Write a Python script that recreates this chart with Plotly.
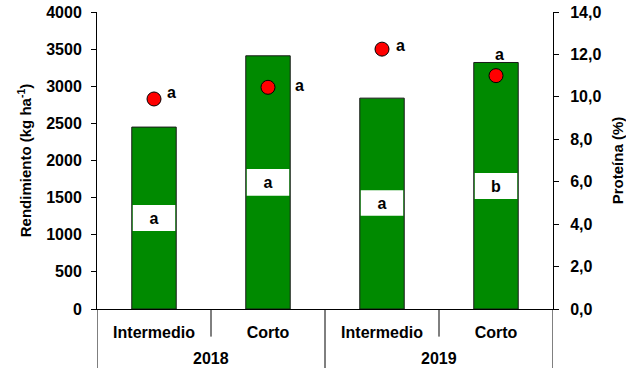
import plotly.graph_objects as go

years = ["2018", "2019"]
cycles = ["Intermedio", "Corto", "Intermedio", "Corto"]
yield_kg = [2450, 3410, 2840, 3320]
box_low = [1050, 1525, 1255, 1480]
box_high = [1400, 1885, 1600, 1830]
yield_letters = ["a", "a", "a", "b"]
protein = [9.9, 10.45, 12.25, 11.0]
protein_letters = ["a", "a", "a", "a"]

FONT = "Liberation Sans, Arial, sans-serif"
TICK = dict(family=FONT, size=16, color="black", weight="bold")
xs = list(range(len(cycles)))
n_per_year = len(cycles) // len(years)

fig = go.Figure()
fig.add_trace(go.Bar(
    x=xs, y=yield_kg, width=0.39,
    marker=dict(color="#008A00", line=dict(color="#1a1a1a", width=1)),
    showlegend=False, hoverinfo="skip",
))
fig.add_trace(go.Bar(
    x=xs, y=[h - l for h, l in zip(box_high, box_low)], base=box_low, width=0.372,
    marker=dict(color="white", line=dict(width=0)),
    text=["<b>%s</b>" % t for t in yield_letters], textposition="inside",
    insidetextanchor="middle", textangle=0,
    textfont=dict(family=FONT, size=16, color="black", weight="bold"),
    showlegend=False, hoverinfo="skip",
))
fig.add_trace(go.Scatter(
    x=xs, y=protein, yaxis="y2", mode="markers",
    marker=dict(color="#FF0000", size=14, line=dict(color="black", width=1)),
    showlegend=False, hoverinfo="skip", cliponaxis=False,
))

# letters next to the protein points (pixel offsets of the label from its point)
label_shift = [(17, 6), (31, 2), (18, 4), (3, 21)]
for i, (p, t) in enumerate(zip(protein, protein_letters)):
    dx, dy = label_shift[i]
    fig.add_annotation(
        x=i, y=p, xref="x", yref="y2", text="<b>%s</b>" % t, showarrow=False,
        xshift=dx, yshift=dy,
        font=dict(family=FONT, size=16, color="black"),
    )

# year group labels
for k, yr in enumerate(years):
    fig.add_annotation(
        x=k * n_per_year + (n_per_year - 1) / 2, y=-0.165, xref="x", yref="paper",
        text="<b>%s</b>" % yr, showarrow=False, yanchor="middle",
        font=dict(family=FONT, size=16, color="black"),
    )

# dividers of the category axis
for b in range(len(cycles) + 1):
    xb = b - 0.5
    full = (b % n_per_year == 0)
    fig.add_shape(type="line", xref="x", yref="paper", x0=xb, x1=xb,
                  y0=0, y1=-0.2 if full else -0.093,
                  line=dict(color="black", width=1))

fig.update_layout(
    width=626, height=368,
    margin=dict(l=97, r=73, t=12, b=59, autoexpand=False),
    paper_bgcolor="white", plot_bgcolor="white",
    barmode="overlay",
    separators=",.",
    font=dict(family=FONT, size=16, color="black"),
    xaxis=dict(
        range=[-0.5, len(cycles) - 0.5], tickvals=xs,
        ticktext=["<b>%s</b>" % c for c in cycles],
        showline=True, linecolor="black", linewidth=1, automargin=False,
        ticks="", showgrid=False, zeroline=False, ticklabelstandoff=9,
        tickfont=TICK,
    ),
    yaxis=dict(
        range=[0, 4000], dtick=500, showline=True, linecolor="black", linewidth=1,
        ticks="outside", ticklen=5, tickcolor="black", showgrid=False, zeroline=False,
        tickprefix="<b>", ticksuffix="</b>", ticklabelstandoff=6, automargin=False,
        tickfont=TICK,
        title=dict(text="<b>Rendimiento (kg ha<sup>-1</sup>)</b>", standoff=10,
                   font=dict(family=FONT, size=15, color="black")),
    ),
    yaxis2=dict(
        range=[0, 14], dtick=2, tickformat=".1f", overlaying="y", side="right",
        showline=True, linecolor="black", linewidth=1, automargin=False,
        ticks="outside", ticklen=5, tickcolor="black", showgrid=False, zeroline=False,
        tickprefix="<b>", ticksuffix="</b>", ticklabelstandoff=8,
        tickfont=TICK,
        title=dict(text="<b>Proteína (%)</b>", standoff=12,
                   font=dict(family=FONT, size=15, color="black")),
    ),
)

fig.write_html("out.html")
